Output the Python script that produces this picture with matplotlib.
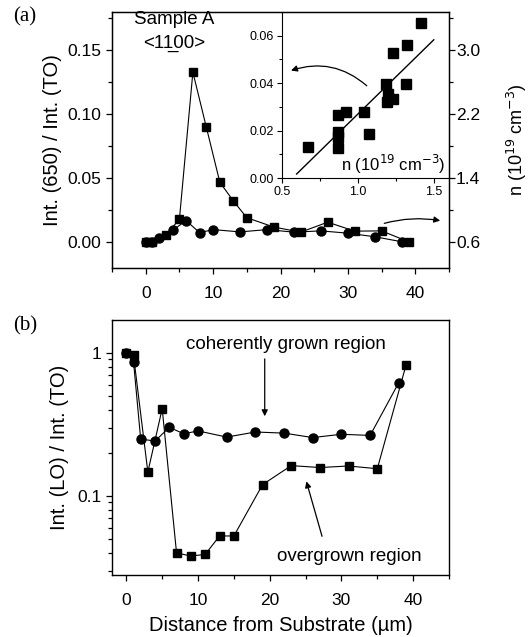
import numpy as np
import matplotlib
matplotlib.use("Agg")
import matplotlib.pyplot as plt
from matplotlib.ticker import FixedLocator, FormatStrFormatter, NullFormatter

plt.rcParams['font.family'] = ['Liberation Sans', 'DejaVu Sans']

# ---- panel (a): Int(650)/Int(TO) vs distance ----
a_sq_x = [0, 1, 3, 5, 7, 9, 11, 13, 15, 19, 23, 27, 31, 35, 39]
a_sq_y = [0.000, 0.0005, 0.006, 0.018, 0.133, 0.0899, 0.047, 0.0324, 0.0193,
          0.012, 0.0080, 0.0158, 0.0088, 0.0090, 0.0005]
a_ci_x = [0, 1, 2, 4, 6, 8, 10, 14, 18, 22, 26, 30, 34, 38]
a_ci_y = [0.000, 0.0003, 0.0037, 0.0095, 0.0170, 0.0076, 0.0100, 0.0082,
          0.0100, 0.0080, 0.0090, 0.0072, 0.0044, 0.0005]

# ---- inset: Int(650)/Int(TO) vs n ----
in_n = [0.675, 0.872, 0.920, 0.872, 0.872, 0.872, 1.040, 1.075, 1.189,
        1.200, 1.194, 1.229, 1.233, 1.325, 1.316, 1.415]
in_y = [0.0130, 0.0265, 0.0279, 0.0195, 0.0174, 0.0128, 0.0279, 0.0188,
        0.0395, 0.0353, 0.0321, 0.0335, 0.0527, 0.0558, 0.0395, 0.0652]
fit_n = [0.598, 1.500]
fit_y = [0.0018, 0.0582]

# ---- panel (b): Int(LO)/Int(TO) vs distance ----
b_ci_x = [0, 1, 2, 4, 6, 8, 10, 14, 18, 22, 26, 30, 34, 38]
b_ci_y = [1.0, 0.87, 0.25, 0.242, 0.302, 0.272, 0.285, 0.258, 0.28,
          0.275, 0.256, 0.27, 0.265, 0.62]
b_sq_x = [0, 1, 3, 5, 7, 9, 11, 13, 15, 19, 23, 27, 31, 35, 39]
b_sq_y = [1.0, 0.96, 0.147, 0.408, 0.040, 0.038, 0.039, 0.0525, 0.0525,
          0.12, 0.163, 0.158, 0.162, 0.155, 0.82]

W, H = 531, 637
fig = plt.figure(figsize=(W / 100, H / 100), dpi=100)


def box(l, t, r, b):
    return [l / W, 1 - b / H, (r - l) / W, (b - t) / H]


mk = dict(color='black', linewidth=0.8)
fs = 12.5      # tick labels
fl = 14.5      # axis labels
fa = 13.5      # annotations
arr = dict(arrowstyle='-|>', color='black', lw=0.9, mutation_scale=9)

# ===== top panel =====
ax1 = fig.add_axes(box(112, 12, 449, 268))
ax1.plot(a_sq_x, a_sq_y, marker='s', markersize=6, **mk)
ax1.plot(a_ci_x, a_ci_y, marker='o', markersize=6.5, **mk)
ax1.set_xlim(-5, 45)
ax1.set_ylim(-0.02, 0.18)
ax1.xaxis.set_major_locator(FixedLocator([0, 10, 20, 30, 40]))
ax1.xaxis.set_minor_locator(FixedLocator([-5, 5, 15, 25, 35, 45]))
ax1.yaxis.set_major_locator(FixedLocator([0, 0.05, 0.10, 0.15]))
ax1.yaxis.set_minor_locator(FixedLocator([0.025, 0.075, 0.125, 0.175]))
ax1.yaxis.set_major_formatter(FormatStrFormatter('%.2f'))
ax1.set_ylabel('Int. (650) / Int. (TO)', fontsize=fl, labelpad=4)
ax1.text(4.3, 0.174, 'Sample A', ha='center', va='center', fontsize=fa)
ax1.text(4.3, 0.1555, '<11\u033200>', ha='center', va='center', fontsize=fa)
ax1.annotate('', xy=(44.1, 0.0166), xytext=(35.0, 0.0143),
             arrowprops=dict(connectionstyle='arc3,rad=-0.12', **arr))

ax1r = ax1.twinx()
ax1r.set_ylim(0.6 + 16 * -0.02, 0.6 + 16 * 0.18)
ax1r.yaxis.set_major_locator(FixedLocator([0.6, 1.4, 2.2, 3.0]))
ax1r.yaxis.set_minor_locator(FixedLocator([1.0, 1.8, 2.6, 3.4]))
ax1r.yaxis.set_major_formatter(FormatStrFormatter('%.1f'))
ax1r.set_ylabel('n (10$^{19}$ cm$^{-3}$)', fontsize=13, labelpad=18)

# ===== inset =====
axi = fig.add_axes(box(281.7, 11.7, 449, 178.3))
axi.plot(in_n, in_y, linestyle='none', marker='s', markersize=6.5,
         color='black')
axi.plot(fit_n, fit_y, color='black', linewidth=1.0)
axi.set_xlim(0.5, 1.6)
axi.set_ylim(0, 0.07)
axi.xaxis.set_major_locator(FixedLocator([0.5, 1.0, 1.5]))
axi.xaxis.set_minor_locator(FixedLocator([0.75, 1.25]))
axi.yaxis.set_major_locator(FixedLocator([0, 0.02, 0.04, 0.06]))
axi.yaxis.set_minor_locator(FixedLocator([0.01, 0.03, 0.05]))
axi.yaxis.set_major_formatter(FormatStrFormatter('%.2f'))
axi.xaxis.set_major_formatter(FormatStrFormatter('%.1f'))
axi.spines['top'].set_visible(False)
axi.spines['right'].set_visible(False)
axi.patch.set_alpha(0)
axi.tick_params(which='major', labelsize=9, length=3.5, width=0.8, pad=2)
axi.tick_params(which='minor', length=2.5, width=0.8)
axi.text(1.233, 0.0058, 'n (10$^{19}$ cm$^{-3}$)', ha='center', va='center',
         fontsize=12)
axi.annotate('', xy=(0.544, 0.0449), xytext=(1.073, 0.0381),
             arrowprops=dict(connectionstyle='arc3,rad=0.3', **arr))

# ===== bottom panel =====
ax2 = fig.add_axes(box(112, 320, 449, 575))
ax2.plot(b_ci_x, b_ci_y, marker='o', markersize=6.5, **mk)
ax2.plot(b_sq_x, b_sq_y, marker='s', markersize=6, **mk)
ax2.set_yscale('log')
ax2.set_xlim(-2, 45)
ax2.set_ylim(0.028, 1.7)
ax2.xaxis.set_major_locator(FixedLocator([0, 10, 20, 30, 40]))
ax2.xaxis.set_minor_locator(FixedLocator([5, 15, 25, 35, 45]))
ax2.yaxis.set_major_locator(FixedLocator([0.1, 1]))
ax2.yaxis.set_major_formatter(plt.FixedFormatter(['0.1', '1']))
ax2.yaxis.set_minor_locator(FixedLocator(
    [0.03, 0.04, 0.05, 0.06, 0.07, 0.08, 0.09,
     0.2, 0.3, 0.4, 0.5, 0.6, 0.7, 0.8, 0.9]))
ax2.yaxis.set_minor_formatter(NullFormatter())
ax2.set_ylabel('Int. (LO) / Int. (TO)', fontsize=fl, labelpad=6)
ax2.set_xlabel('Distance from Substrate (\u00b5m)', fontsize=fl, labelpad=6)
ax2.text(22.2, 1.15, 'coherently grown region', ha='center', va='center',
         fontsize=fa)
ax2.annotate('', xy=(19.3, 0.345), xytext=(19.3, 0.95), arrowprops=arr)
ax2.text(31.1, 0.038, 'overgrown region', ha='center', va='center',
         fontsize=fa)
ax2.annotate('', xy=(25.0, 0.132), xytext=(27.4, 0.050), arrowprops=arr)

for ax in (ax1, ax2):
    ax.tick_params(which='major', labelsize=fs, length=4, width=0.9,
                   direction='out')
    ax.tick_params(which='minor', length=3, width=0.9, direction='out')
    ax.tick_params(axis='x', which='major', pad=9)
    for s in ax.spines.values():
        s.set_linewidth(1.0)
ax1r.tick_params(which='major', labelsize=fs, length=4, width=0.9, pad=1)
ax1r.tick_params(which='minor', length=3, width=0.9)

fig.text(25 / W, 1 - 17 / H, '(a)', family='Liberation Serif', fontsize=15,
         ha='center', va='center')
fig.text(25 / W, 1 - 326 / H, '(b)', family='Liberation Serif', fontsize=15,
         ha='center', va='center')

fig.savefig('out.png', dpi=100)
